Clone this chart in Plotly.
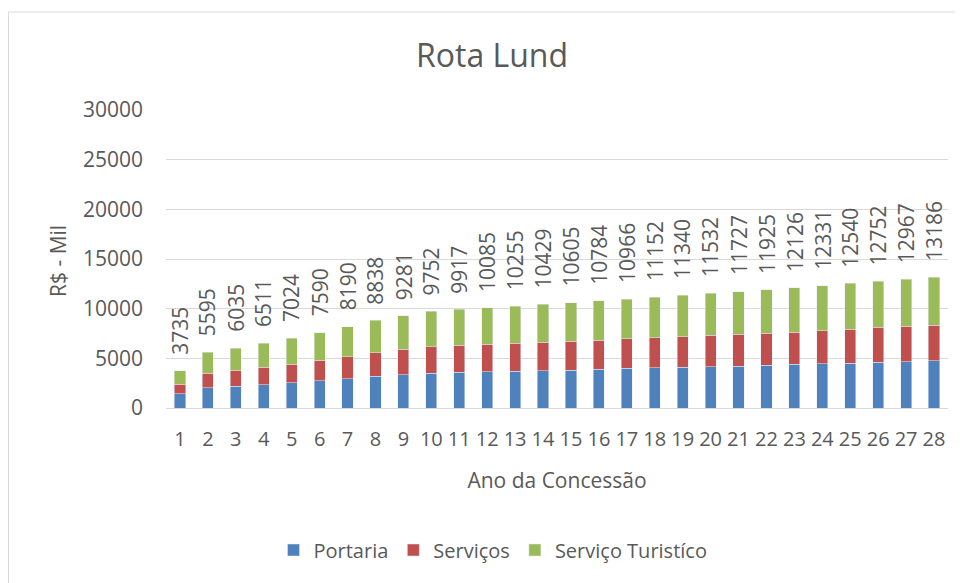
import plotly.graph_objects as go

anos = list(range(1, 29))
portaria = [1420, 2030, 2200, 2330, 2530, 2740, 2940, 3180, 3340, 3510, 3580, 3650, 3720, 3750,
            3820, 3920, 3990, 4050, 4080, 4140, 4210, 4310, 4380, 4440, 4510, 4610, 4680, 4750]
portaria_mais_servicos = [2400, 3510, 3820, 4120, 4430, 4800, 5170, 5540, 5910, 6180, 6320, 6420, 6520, 6620,
                          6720, 6820, 6960, 7090, 7170, 7310, 7410, 7510, 7640, 7780, 7910, 8110, 8220, 8320]
totais = [3735, 5595, 6035, 6511, 7024, 7590, 8190, 8838, 9281, 9752, 9917, 10085, 10255, 10429,
          10605, 10784, 10966, 11152, 11340, 11532, 11727, 11925, 12126, 12331, 12540, 12752, 12967, 13186]
servicos = [b - a for a, b in zip(portaria, portaria_mais_servicos)]
turistico = [t - b for b, t in zip(portaria_mais_servicos, totais)]

FONT = "Open Sans"
GREY = "#595959"
OFF = 8  # page body margin
W, H = 963 - OFF, 583 - OFF
ML, MR, MT, MB = 166 - OFF, 963 - 948, 110 - OFF, 583 - 408
pw = W - ML - MR
ph = H - MT - MB


def px(x):
    return (x - OFF - ML) / pw


def py(y):
    return (H - MB - (y - OFF)) / ph


fig = go.Figure()
fig.add_bar(x=anos, y=portaria, name="Portaria", marker_color="#4F81BD")
fig.add_bar(x=anos, y=servicos, name="Serviços", marker_color="#C0504D")
fig.add_bar(x=anos, y=turistico, name="Serviço Turistíco", marker_color="#9BBB59")

for a, t in zip(anos, totais):
    fig.add_annotation(x=a, y=t, text=str(t), textangle=-90, showarrow=False,
                       yanchor="bottom", xanchor="center", yshift=14,
                       font=dict(family=FONT, size=21, color=GREY))

fig.add_annotation(xref="paper", yref="paper", x=px(58), y=py(261), text="R$ - Mil",
                   textangle=-90, showarrow=False, xanchor="center", yanchor="middle",
                   font=dict(family=FONT, size=21, color=GREY))

fig.add_shape(type="rect", xref="paper", yref="paper",
              x0=px(OFF + 0.5), x1=px(W + OFF + 20),
              y0=py(H + OFF + 20), y1=py(12),
              line=dict(color="#d9d9d9", width=1), layer="below")

fig.update_layout(
    barmode="stack",
    bargap=0.6,
    width=W, height=H,
    margin=dict(l=ML, r=MR, t=MT, b=MB, autoexpand=False),
    paper_bgcolor="white", plot_bgcolor="white",
    font=dict(family=FONT, size=20, color=GREY),
    title=dict(text="Rota Lund", x=px(492), xref="paper", xanchor="center",
               y=1 - (56 - OFF) / H, yanchor="middle",
               font=dict(family=FONT, size=32, color=GREY)),
    legend=dict(orientation="h", x=px(493), xanchor="center",
                y=py(550), yanchor="middle",
                font=dict(family=FONT, size=20, color=GREY), traceorder="normal",
                itemwidth=30),
    showlegend=True,
)
fig.update_xaxes(type="linear", range=[0.5, 28.5], tickmode="array", tickvals=anos,
                 ticktext=[str(a) for a in anos], automargin=False,
                 showgrid=False, showline=True, linecolor="#d9d9d9",
                 tickfont=dict(size=20, color=GREY), ticks="", ticklabelstandoff=13,
                 title=dict(text="Ano da Concessão", font=dict(size=21, color=GREY), standoff=22))
fig.update_yaxes(range=[0, 30000], dtick=5000, tickformat="d", showgrid=True,
                 gridcolor="#d9d9d9", gridwidth=1, automargin=False,
                 zeroline=False, showline=False, tickfont=dict(size=21, color=GREY),
                 ticklabelstandoff=22)

fig.write_html("out.html")
